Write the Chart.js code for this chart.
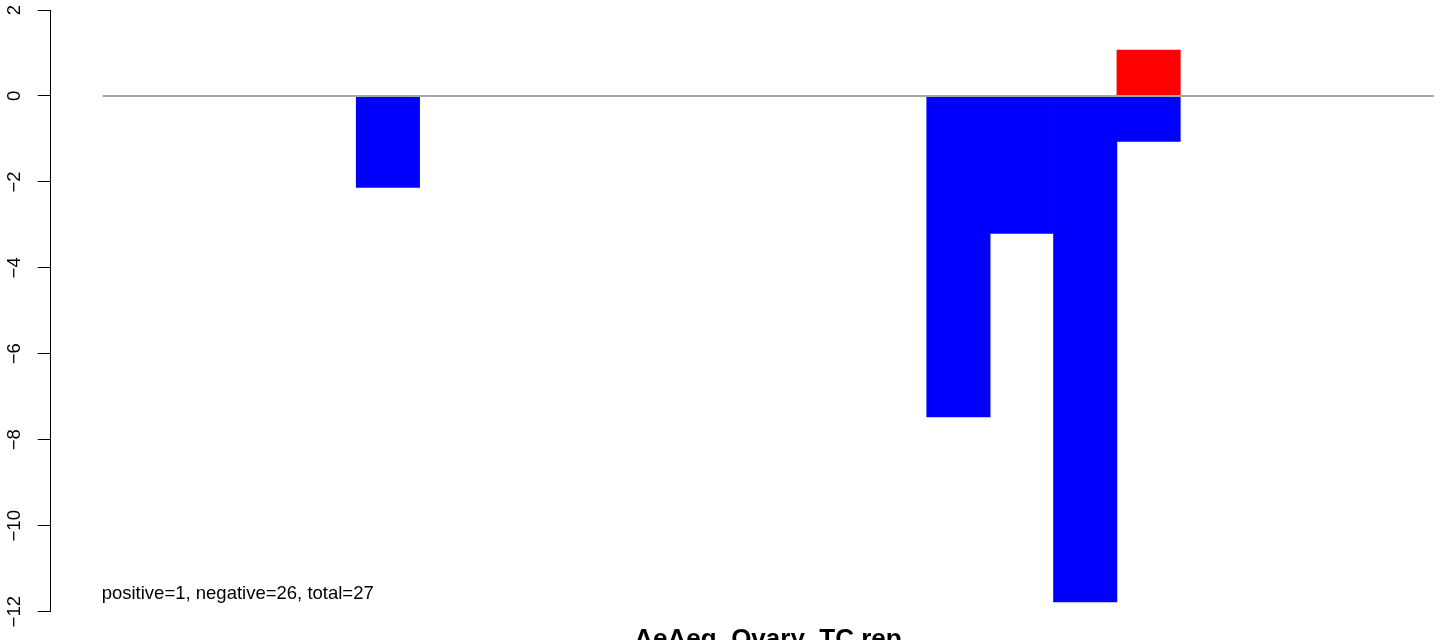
<!DOCTYPE html>
<html lang="en">
<head>
  <meta charset="UTF-8">
  <title>AeAeg_Ovary_TC.rep</title>
  <script src="https://cdn.jsdelivr.net/npm/chart.js"></script>
  <style>
    html, body { margin: 0; padding: 0; background: #fff; overflow: hidden; }
    #wrap { width: 1444px; height: 640px; }
  </style>
</head>
<body>
  <div id="wrap">
    <canvas id="barChart" width="1444" height="640"></canvas>
  </div>

  <script>
    // one slot per position, bars sit side by side (space = 0)
    const slots = [0, 1, 2, 3, 4, 5, 6, 7, 8, 9, 10, 11, 12, 13, 14, 15, 16, 17, 18, 19, 20];
    const negativeValues = [0, 0, 0, 0, -2.13, 0, 0, 0, 0, 0, 0, 0, 0, -7.47, -3.2, -11.77, -1.06, 0, 0, 0, 0];
    const positiveValues = [0, 0, 0, 0, 0, 0, 0, 0, 0, 0, 0, 0, 0, 0, 0, 0, 1.07, 0, 0, 0, 0];
    const yTicks = [2, 0, -2, -4, -6, -8, -10, -12];
    const baseline = [0, 21];
    const chartTitle = 'AeAeg_Ovary_TC.rep';
    const summary = 'positive=1, negative=26, total=27';

    const FONT = "'Liberation Sans', Arial, Helvetica, sans-serif";

    const toPoints = (vals) => vals.map((v, i) => ({ x: slots[i] + 0.5, y: v === 0 ? null : v }));

    // draws the rotated y tick labels, the summary note and the title
    const rStyleText = {
      id: 'rStyleText',
      afterDraw(chart) {
        const { ctx, scales: { x, y } } = chart;
        ctx.save();
        ctx.fillStyle = '#000';
        ctx.font = '18.5px ' + FONT;
        ctx.textAlign = 'center';
        ctx.textBaseline = 'alphabetic';
        yTicks.forEach(t => {
          const py = y.getPixelForValue(t);
          ctx.save();
          ctx.translate(20, py);
          ctx.rotate(-Math.PI / 2);
          ctx.fillText(String(t).replace('-', '\u2212'), 0, 0);
          ctx.restore();
        });

        ctx.textAlign = 'left';
        ctx.fillText(summary, x.getPixelForValue(0) - 1, 599);

        ctx.font = 'bold 26px ' + FONT;
        ctx.textAlign = 'center';
        ctx.fillText(chartTitle, 768, 647);
        ctx.restore();
      }
    };

    const ctx = document.getElementById('barChart').getContext('2d');
    new Chart(ctx, {
      type: 'bar',
      data: {
        datasets: [
          {
            type: 'line',
            data: baseline.map(v => ({ x: v, y: 0 })),
            borderColor: '#a6a6a6',
            borderWidth: 2,
            pointRadius: 0,
            fill: false,
            order: 0
          },
          {
            data: toPoints(negativeValues),
            backgroundColor: '#0000ff',
            borderWidth: 0,
            barPercentage: 1,
            categoryPercentage: 1,
            order: 1
          },
          {
            data: toPoints(positiveValues),
            backgroundColor: '#ff0000',
            borderWidth: 0,
            barPercentage: 1,
            categoryPercentage: 1,
            order: 1
          }
        ]
      },
      options: {
        responsive: false,
        devicePixelRatio: 1,
        animation: false,
        layout: { padding: { top: 10, bottom: 28.3, left: 0, right: 0 } },
        plugins: {
          legend: { display: false },
          tooltip: { enabled: false },
          title: { display: false }
        },
        scales: {
          x: {
            type: 'linear',
            min: -0.82,
            max: 21.16,
            offset: false,
            bounds: 'data',
            stacked: true,
            display: false
          },
          y: {
            min: -12,
            max: 2,
            stacked: true,
            ticks: { display: false, stepSize: 2 },
            grid: {
              drawOnChartArea: false,
              drawTicks: true,
              tickLength: 13,
              color: '#000',
              lineWidth: 1
            },
            border: { display: true, color: '#000', width: 1 },
            afterFit(scale) { scale.width = 50.7; }
          }
        }
      },
      plugins: [rStyleText]
    });
  </script>
</body>
</html>
